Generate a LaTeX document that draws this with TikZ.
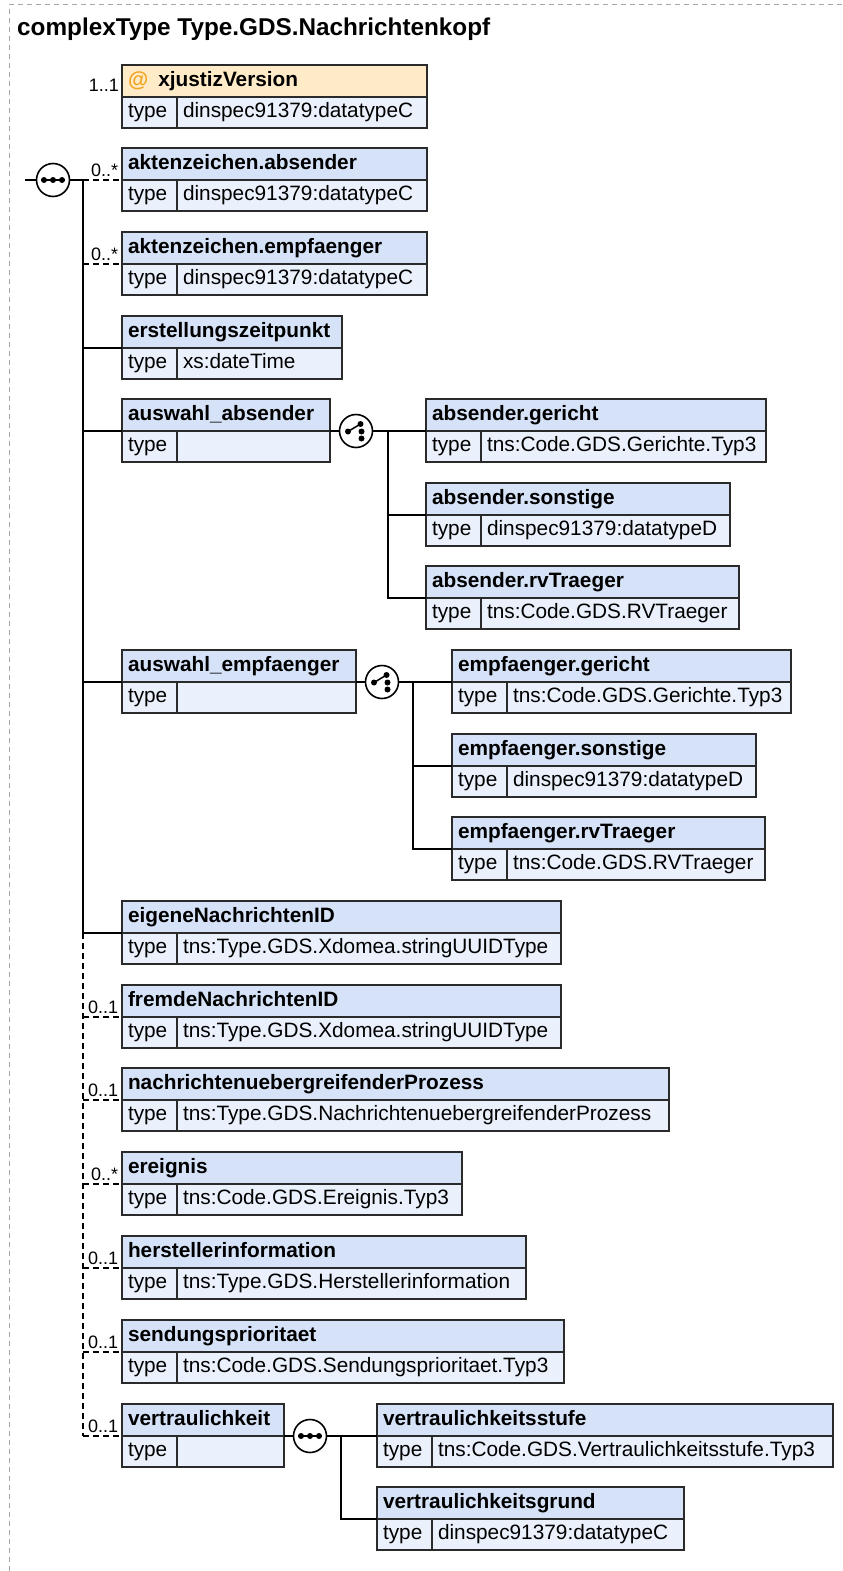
\documentclass[tikz,border=0pt]{standalone}
\usepackage{fontspec}
\setmainfont{Liberation Sans}
\usepackage{xcolor}
\usepackage{tikz}
\usetikzlibrary{calc}
\usetikzlibrary{positioning}

\definecolor{kepalabiru}{HTML}{D5E2F7}
\definecolor{isibiru}{HTML}{EAF1FC}
\definecolor{kepalaoranye}{HTML}{FFEBC8}
\definecolor{oranye}{HTML}{F2A31F}
\definecolor{garis}{HTML}{2A2A2A}
\definecolor{bingkai}{HTML}{A6A6A6}

\hyphenpenalty=10000

% kotak elemen: [warna] nama, kiri, kanan, garis tengah, judul, tipe
\newcommand{\kotak}[7][kepalabiru]{%
  \pgfmathsetmacro{\lebarA}{#4-#3-12}%
  \pgfmathsetmacro{\lebarB}{#4-#3-55-12}%
  \node[kepala=#1, text width=\lebarA pt, anchor=south west] (#2) at (#3,#5) {#6};
  \node[isi, text width=43pt, anchor=north west] (#2-t) at (#3,#5) {type};
  \node[isi, text width=\lebarB pt, anchor=north west] (#2-v) at (#2-t.north east) {#7};
}
% simbol urutan
\newcommand{\urutan}[3]{%
  \node[bulat] (#1) at (#2,#3) {};
  \begin{scope}[shift={(#1.center)}]
    \draw[line width=1.5pt] (-12,0) -- (12,0);
    \foreach \d in {-9,0,9} \fill (\d,0) circle (3);
  \end{scope}
}
% simbol pilihan
\newcommand{\pilihan}[3]{%
  \node[bulat] (#1) at (#2,#3) {};
  \begin{scope}[shift={(#1.center)}]
    \draw[line width=1.5pt] (-8,0.5) -- (4.5,-7);
    \fill (-8,0.5) circle (3) (4.5,-7) circle (3) (5.5,0.5) circle (3) (5.5,7.5) circle (3);
  \end{scope}
}

\begin{document}
\begin{tikzpicture}[x=1pt,y=-1pt,
    sel/.style={draw=garis, line width=1.6pt, outer sep=0pt, inner xsep=6pt, inner ysep=0pt,
      text height=15pt, text depth=4.5pt, align=left, font=\fontsize{20.8}{24}\selectfont},
    kepala/.style={sel, fill=#1, minimum height=32pt, font=\fontsize{20.8}{24}\selectfont\bfseries},
    kepala/.default=kepalabiru,
    isi/.style={sel, fill=isibiru, minimum height=31pt},
    kard/.style={font=\fontsize{18}{20}\selectfont, inner sep=0pt},
    hub/.style={line width=1.6pt, draw=black},
    putus/.style={hub, dash pattern=on 6pt off 4pt},
    bulat/.style={circle, draw=black, fill=white, line width=1.6pt, minimum size=33pt, inner sep=0pt}]
    \useasboundingbox (0,0) rectangle (843,1571);
    %BINGKAI
    \draw[bingkai, line width=1pt, dash pattern=on 5pt off 4pt] (9,1571) -- (9,5) -- (843,5);
    %JUDUL
    \node[font=\fontsize{24.3}{28}\selectfont\bfseries, anchor=base west, inner sep=0pt] (judul) at (17,36)
        {complexType Type.GDS.Nachrichtenkopf};
    %KOTAK KIRI
    \kotak[kepalaoranye]{xjust}{122}{427}{97}{{\color{oranye}@}\hspace{10pt}xjustizVersion}{dinspec91379:datatypeC}
    \kotak{akzAbs}{122}{427}{180}{aktenzeichen.absender}{dinspec91379:datatypeC}
    \kotak{akzEmp}{122}{427}{264}{aktenzeichen.empfaenger}{dinspec91379:datatypeC}
    \kotak{erstZeit}{122}{342}{348}{erstellungszeitpunkt}{xs:dateTime}
    \kotak{auswAbs}{122}{330}{431}{auswahl\_absender}{}
    \kotak{auswEmp}{122}{356}{682}{auswahl\_empfaenger}{}
    \kotak{eigID}{122}{561}{933}{eigeneNachrichtenID}{tns:Type.GDS.Xdomea.stringUUIDType}
    \kotak{fremdID}{122}{561}{1017}{fremdeNachrichtenID}{tns:Type.GDS.Xdomea.stringUUIDType}
    \kotak{nachrProz}{122}{669}{1100}{nachrichtenuebergreifenderProzess}{tns:Type.GDS.NachrichtenuebergreifenderProzess}
    \kotak{ereignis}{122}{462}{1184}{ereignis}{tns:Code.GDS.Ereignis.Typ3}
    \kotak{herst}{122}{526}{1268}{herstellerinformation}{tns:Type.GDS.Herstellerinformation}
    \kotak{sendPrio}{122}{564}{1352}{sendungsprioritaet}{tns:Code.GDS.Sendungsprioritaet.Typ3}
    \kotak{vertr}{122}{284}{1436}{vertraulichkeit}{}
    %KOTAK KANAN
    \kotak{absGer}{426}{766}{431}{absender.gericht}{tns:Code.GDS.Gerichte.Typ3}
    \kotak{absSon}{426}{730}{515}{absender.sonstige}{dinspec91379:datatypeD}
    \kotak{absRv}{426}{739}{598}{absender.rvTraeger}{tns:Code.GDS.RVTraeger}
    \kotak{empGer}{452}{791}{682}{empfaenger.gericht}{tns:Code.GDS.Gerichte.Typ3}
    \kotak{empSon}{452}{756}{766}{empfaenger.sonstige}{dinspec91379:datatypeD}
    \kotak{empRv}{452}{765}{849}{empfaenger.rvTraeger}{tns:Code.GDS.RVTraeger}
    \kotak{vStufe}{377}{833}{1436}{vertraulichkeitsstufe}{tns:Code.GDS.Vertraulichkeitsstufe.Typ3}
    \kotak{vGrund}{377}{684}{1519}{vertraulichkeitsgrund}{dinspec91379:datatypeC}
    \node[kard, anchor=base east] (kXjust) at ($(xjust.south west)+(-3,-5)$) {1..1};
    %SIMBOL
    \urutan{seqUtama}{53}{180}
    \pilihan{pilAbs}{356}{431}
    \pilihan{pilEmp}{382}{682}
    \urutan{seqVertr}{310}{1436}
    %GARIS UTAMA
    \coordinate (awal) at (25,180);
    \coordinate (bus) at (83,180);
    \coordinate (busA) at (83,933);
    \coordinate (busB) at (83,1436);
    \draw[hub] (awal) -- (seqUtama.west);
    \draw[hub] (seqUtama.east) -- (bus) -- (busA);
    \draw[putus] (busA) -- (busB);
    \foreach \n in {erstZeit,auswAbs,auswEmp,eigID}
        \draw[hub] (\n.south west -| bus) -- (\n.south west);
    \foreach \n in {akzAbs,akzEmp}
        \draw[putus] (\n.south west -| bus) -- (\n.south west)
            node[kard, pos=1, anchor=base east, xshift=-3pt, yshift=4pt] {0..*};
    \draw[putus] (ereignis.south west -| bus) -- (ereignis.south west)
        node[kard, pos=1, anchor=base east, xshift=-3pt, yshift=4pt] {0..*};
    \foreach \n in {fremdID,nachrProz,herst,sendPrio,vertr}
        \draw[putus] (\n.south west -| bus) -- (\n.south west)
            node[kard, pos=1, anchor=base east, xshift=-3pt, yshift=4pt] {0..1};
    %PILIHAN ABSENDER
    \coordinate (busAbs) at (388,431);
    \draw[hub] (auswAbs.south east) -- (pilAbs.west);
    \draw[hub] (pilAbs.east) -- (absGer.south west);
    \draw[hub] (busAbs) -- (busAbs |- absRv.south west) -- (absRv.south west);
    \draw[hub] (busAbs |- absSon.south west) -- (absSon.south west);
    %PILIHAN EMPFAENGER
    \coordinate (busEmp) at (413,682);
    \draw[hub] (auswEmp.south east) -- (pilEmp.west);
    \draw[hub] (pilEmp.east) -- (empGer.south west);
    \draw[hub] (busEmp) -- (busEmp |- empRv.south west) -- (empRv.south west);
    \draw[hub] (busEmp |- empSon.south west) -- (empSon.south west);
    %URUTAN VERTRAULICHKEIT
    \coordinate (busVertr) at (341,1436);
    \draw[hub] (vertr.south east) -- (seqVertr.west);
    \draw[hub] (seqVertr.east) -- (vStufe.south west);
    \draw[hub] (busVertr) -- (busVertr |- vGrund.south west) -- (vGrund.south west);
\end{tikzpicture}
\end{document}
